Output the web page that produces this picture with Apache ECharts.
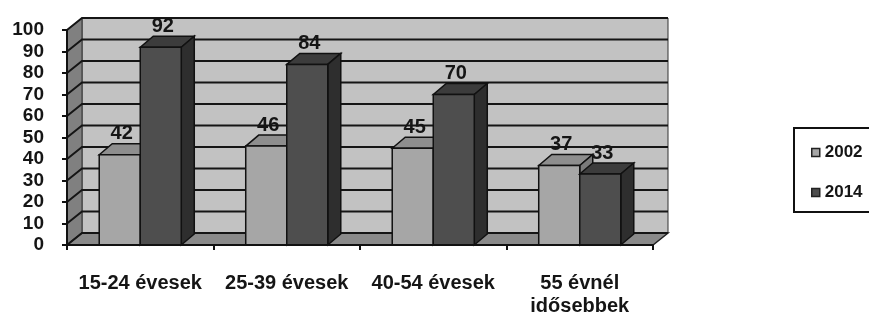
<!DOCTYPE html>
<html>
<head>
<meta charset="utf-8">
<script src="https://cdn.jsdelivr.net/npm/echarts@6/dist/echarts.min.js"></script>
<style>
  html, body { margin: 0; padding: 0; background: #fff; }
  #chart { width: 869px; height: 318px; }
</style>
</head>
<body>
<div id="chart"></div>
<script>
// adatok
const categories = ['15-24 évesek', '25-39 évesek', '40-54 évesek', '55 évnél\nidősebbek'];
const values2002 = [42, 46, 45, 37];
const values2014 = [92, 84, 70, 33];
const yTicks = [0, 10, 20, 30, 40, 50, 60, 70, 80, 90, 100];

const FONT = '"Liberation Sans", Arial, sans-serif';
// mélység (3D eltolás)
const WDX = 15, WDY = -12;   // falak
const BDX = 13, BDY = -11;   // oszlopok
const BAR_RATIO = 0.28;

const chart = echarts.init(document.getElementById('chart'));

// hátfal, oldalfal, padló, rácsvonalak
const renderWalls = function (params, api) {
  const cs = params.coordSys;
  const x0 = cs.x, x1 = cs.x + cs.width;
  const yTop = api.coord([0, yTicks[yTicks.length - 1]])[1];
  const yBot = api.coord([0, yTicks[0]])[1];
  const line = { fill: 'none', stroke: '#151515', lineWidth: 2 };
  const children = [
    { type: 'polygon', shape: { points: [[x0 + WDX, yTop + WDY], [x1 + WDX, yTop + WDY], [x1 + WDX, yBot + WDY], [x0 + WDX, yBot + WDY]] },
      style: { fill: '#c2c2c2', stroke: '#333', lineWidth: 1 } },
    { type: 'polygon', shape: { points: [[x0, yTop], [x0 + WDX, yTop + WDY], [x0 + WDX, yBot + WDY], [x0, yBot]] },
      style: { fill: '#808080', stroke: '#333', lineWidth: 1 } },
    { type: 'polygon', shape: { points: [[x0, yBot], [x1, yBot], [x1 + WDX, yBot + WDY], [x0 + WDX, yBot + WDY]] },
      style: { fill: '#8a8a8a', stroke: '#222', lineWidth: 1.5 } }
  ];
  yTicks.forEach(t => {
    const y = api.coord([0, t])[1];
    children.push({ type: 'polyline', shape: { points: [[x0, y], [x0 + WDX, y + WDY], [x1 + WDX, y + WDY]] }, style: line });
  });
  return { type: 'group', children: children };
};

const makeBarRender = function (side, faces) {
  return function (params, api) {
    const idx = api.value(0), val = api.value(1);
    const top = api.coord([idx, val]);
    const base = api.coord([idx, 0]);
    const w = api.size([1, 0])[0] * BAR_RATIO;
    const x0 = side < 0 ? top[0] - w : top[0];
    const x1 = x0 + w;
    const yT = top[1], yB = base[1];
    const edge = { stroke: '#111', lineWidth: 1.5 };
    return {
      type: 'group',
      children: [
        { type: 'polygon', shape: { points: [[x0, yT], [x0 + BDX, yT + BDY], [x1 + BDX, yT + BDY], [x1, yT]] },
          style: Object.assign({ fill: faces.top }, edge) },
        { type: 'polygon', shape: { points: [[x1, yT], [x1 + BDX, yT + BDY], [x1 + BDX, yB + BDY], [x1, yB]] },
          style: Object.assign({ fill: faces.side }, edge) },
        { type: 'rect', shape: { x: x0, y: yT, width: w, height: yB - yT },
          style: Object.assign({ fill: faces.front }, edge) },
        { type: 'text', z2: 50, style: { text: String(val), x: (x0 + x1) / 2 + 2, y: yT + BDY - 10,
          align: 'center', verticalAlign: 'middle', fontFamily: FONT, fontWeight: 'bold', fontSize: 20, fill: '#151515' } }
      ]
    };
  };
};

const light = { front: '#a6a6a6', top: '#8e8e8e', side: '#7a7a7a' };
const dark = { front: '#4e4e4e', top: '#3c3c3c', side: '#2e2e2e' };

chart.setOption({
  animation: false,
  grid: { left: 67, right: 216, top: 30, bottom: 70.5 },
  xAxis: {
    type: 'category',
    data: categories,
    z: 10,
    axisLine: { lineStyle: { color: '#111', width: 2 } },
    axisTick: { show: true, length: 5, lineStyle: { color: '#111', width: 2 } },
    axisLabel: { margin: 27, fontFamily: FONT, fontWeight: 'bold', fontSize: 20, color: '#151515', lineHeight: 23, interval: 0 }
  },
  yAxis: {
    type: 'value',
    min: 0, max: 100, interval: 10,
    z: 10,
    axisLine: { show: true, lineStyle: { color: '#111', width: 2 } },
    axisTick: { show: true, length: 5, lineStyle: { color: '#111', width: 2 } },
    axisLabel: { margin: 23, fontFamily: FONT, fontWeight: 'bold', fontSize: 19, color: '#151515' },
    splitLine: { show: false }
  },
  legend: {
    orient: 'vertical',
    left: 794, top: 128,
    padding: [16, 40, 11, 17],
    itemGap: 23,
    itemWidth: 8, itemHeight: 8,
    icon: 'rect',
    borderColor: '#111', borderWidth: 2,
    textStyle: { fontFamily: FONT, fontWeight: 'bold', fontSize: 17, color: '#151515' },
    data: [
      { name: '2002', itemStyle: { color: light.front, borderColor: '#222', borderWidth: 1.5 } },
      { name: '2014', itemStyle: { color: dark.front, borderColor: '#222', borderWidth: 1.5 } }
    ]
  },
  series: [
    { type: 'custom', name: 'walls', z: 1, silent: true, renderItem: renderWalls, data: [[0, 0]] },
    { type: 'custom', name: '2002', z: 2, renderItem: makeBarRender(-1, light),
      itemStyle: { color: light.front }, encode: { x: 0, y: 1 },
      data: values2002.map((v, i) => [i, v]) },
    { type: 'custom', name: '2014', z: 3, renderItem: makeBarRender(1, dark),
      itemStyle: { color: dark.front }, encode: { x: 0, y: 1 },
      data: values2014.map((v, i) => [i, v]) }
  ]
});
</script>
</body>
</html>
